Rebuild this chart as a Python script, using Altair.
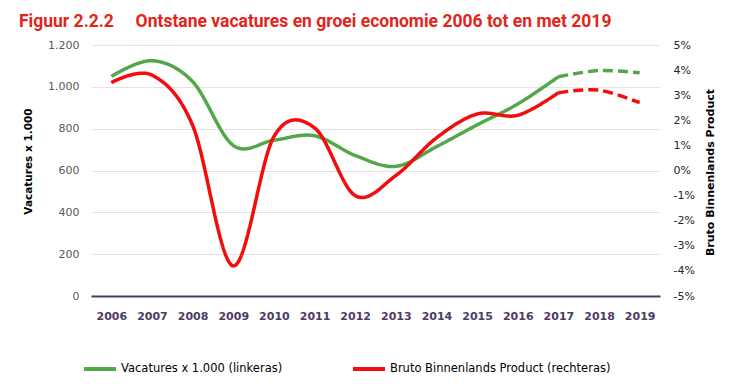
import altair as alt
import pandas as pd

# ---- data ----
years = [str(y) for y in range(2006, 2020)]
vacatures = [1050, 1125, 1025, 720, 745, 766, 672, 620, 714, 818, 918, 1048, 1078, 1067]
bbp = [3.5, 3.8, 1.8, -3.8, 1.35, 1.7, -1.0, -0.2, 1.3, 2.25, 2.2, 3.1, 3.2, 2.7]
last_actual = 2017  # from here on the lines are dashed (raming)

series_vac = "Vacatures x 1.000 (linkeras)"
series_bbp = "Bruto Binnenlands Product (rechteras)"
left_ticks = [0, 200, 400, 600, 800, 1000, 1200]
right_ticks = [-5, -4, -3, -2, -1, 0, 1, 2, 3, 4, 5]

GREEN = "#52a849"
RED = "#f20c0c"

rows = []
for i, y in enumerate(years):
    segs = []
    if int(y) <= last_actual:
        segs.append("realisatie")
    if int(y) >= last_actual:
        segs.append("raming")
    for s in segs:
        rows.append({"jaar": y, "reeks": series_vac, "waarde": vacatures[i], "segment": s})
        rows.append({"jaar": y, "reeks": series_bbp, "waarde": bbp[i], "segment": s})
df = pd.DataFrame(rows)

FONT = "DejaVu Sans"

x_enc = alt.X(
    "jaar:O",
    scale=alt.Scale(type="point", padding=0.5),
    axis=alt.Axis(
        title=None, labelAngle=0, labelFont=FONT, labelFontWeight="bold",
        labelFontSize=11, labelColor="#4d3b63", domainColor="#4d3b63",
        domainWidth=2, ticks=False, labelPadding=14, grid=False,
    ),
)

color_enc = alt.Color(
    "reeks:N",
    scale=alt.Scale(domain=[series_vac, series_bbp], range=[GREEN, RED]),
    legend=alt.Legend(
        title=None, orient="none", legendX=-9, legendY=306, direction="horizontal",
        symbolType="stroke", symbolSize=1024, symbolStrokeWidth=4,
        labelFont=FONT, labelFontSize=11.5, labelColor="#000000", labelLimit=0,
        columnPadding=62, labelOffset=3, padding=0,
    ),
)

dash_enc = alt.StrokeDash(
    "segment:N",
    scale=alt.Scale(domain=["realisatie", "raming"], range=[[1, 0], [10, 5]]),
    legend=None,
)

base = alt.Chart(df)

green = base.transform_filter(alt.datum.reeks == series_vac).mark_line(
    interpolate="cardinal", tension=0, strokeWidth=3.5
).encode(
    x=x_enc,
    y=alt.Y(
        "waarde:Q",
        scale=alt.Scale(domain=[0, 1200]),
        axis=alt.Axis(
            orient="left", values=left_ticks, grid=True, gridColor="#e3e3e3",
            domain=False, ticks=False, labelFont=FONT, labelFontSize=11,
            labelColor="#595959", labelPadding=12,
            labelExpr="replace(format(datum.value, ','), ',', '.')",
            title="Vacatures x 1.000", titleFont=FONT, titleFontWeight="bold",
            titleFontSize=10.5, titleColor="#000000", titleAngle=270,
            titleX=-63, titleY=116, titleAlign="center", titleBaseline="middle",
        ),
    ),
    color=color_enc,
    strokeDash=dash_enc,
)

red = base.transform_filter(alt.datum.reeks == series_bbp).mark_line(
    interpolate="cardinal", tension=0, strokeWidth=3.5
).encode(
    x=x_enc,
    y=alt.Y(
        "waarde:Q",
        scale=alt.Scale(domain=[-5, 5]),
        axis=alt.Axis(
            orient="right", values=right_ticks, grid=False,
            domain=False, ticks=False, labelFont=FONT, labelFontSize=11,
            labelColor="#262626", labelPadding=13,
            labelExpr="datum.value + '%'",
            title="Bruto Binnenlands Product", titleFont=FONT, titleFontWeight="bold",
            titleFontSize=11, titleColor="#000000", titleAngle=270,
            titleX=50, titleY=127, titleAlign="center", titleBaseline="middle",
        ),
    ),
    color=color_enc,
    strokeDash=dash_enc,
)

chart = alt.layer(green, red).resolve_scale(y="independent").properties(
    width=569,
    height=251,
    autosize=alt.AutoSizeParams(type="none"),
    padding={"left": 83, "top": 37, "right": 61, "bottom": 86},
    background="#ffffff",
    title=alt.TitleParams(
        text="Figuur 2.2.2\u00a0\u00a0\u00a0\u00a0\u00a0Ontstane vacatures en groei economie 2006 tot en met 2019",
        anchor="start", frame="group", font="Roboto",
        fontSize=17.5, fontWeight="bold", color="#e3241b", dx=-72, dy=-5,
    ),
).configure_view(stroke=None)

chart.save("out.html", embed_options={"renderer": "svg", "actions": False})
